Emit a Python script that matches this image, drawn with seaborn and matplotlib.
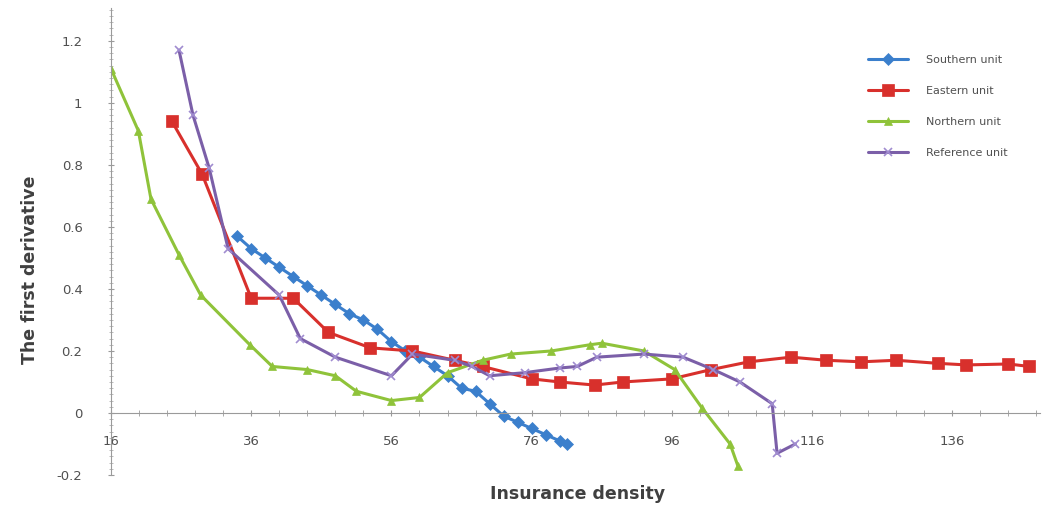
import numpy as np
import pandas as pd
import matplotlib
matplotlib.use('Agg')
import matplotlib.pyplot as plt
import seaborn as sns
from matplotlib.ticker import MultipleLocator

# data
south_x = [34, 36, 38, 40, 42, 44, 46, 48, 50, 52, 54, 56, 58, 60, 62, 64,
           66, 68, 70, 72, 74, 76, 78, 80, 81]
south_y = [0.57, 0.53, 0.50, 0.47, 0.44, 0.41, 0.38, 0.35, 0.32, 0.30, 0.27, 0.23,
           0.20, 0.18, 0.15, 0.12, 0.08, 0.07, 0.03, -0.01, -0.03, -0.05, -0.07,
           -0.09, -0.10]

east_x = [24.7, 29, 36, 42, 47, 53, 59, 65, 69, 76, 80, 85, 89, 96, 101.6,
          107, 113, 118, 123, 128, 134, 138, 144, 147]
east_y = [0.94, 0.77, 0.37, 0.37, 0.26, 0.21, 0.20, 0.17, 0.15, 0.11, 0.10, 0.09,
          0.10, 0.11, 0.14, 0.165, 0.18, 0.17, 0.165, 0.17, 0.16, 0.155, 0.158, 0.15]

north_x = [16, 19.9, 21.7, 25.7, 28.8, 35.8, 39, 44, 48, 51, 56, 60, 64, 69, 73,
           78.8, 84.3, 86, 92, 96.4, 100.3, 104.3, 105.4]
north_y = [1.11, 0.91, 0.69, 0.51, 0.38, 0.22, 0.15, 0.14, 0.12, 0.07, 0.04, 0.05,
           0.13, 0.17, 0.19, 0.20, 0.22, 0.225, 0.20, 0.14, 0.016, -0.10, -0.17]

ref_x = [25.7, 27.7, 30, 32.7, 40, 43, 48, 56, 59, 65, 67.5, 70, 75, 80, 82.5,
         85.3, 92, 97.6, 101.9, 105.7, 110.3, 111, 113.6]
ref_y = [1.17, 0.96, 0.79, 0.53, 0.38, 0.24, 0.18, 0.12, 0.19, 0.17, 0.15, 0.12,
         0.13, 0.145, 0.15, 0.18, 0.19, 0.18, 0.14, 0.10, 0.03, -0.13, -0.10]

names = ['Southern unit', 'Eastern unit', 'Northern unit', 'Reference unit']
colors = ['#3b7fcc', '#d8302c', '#8fc33a', '#7b5fa8']
markers = ['D', 's', '^', 'x']
msizes = [6, 8, 6, 6]

sns.set_style('white')
plt.rcParams['font.family'] = ['DejaVu Sans']

fig = plt.figure(figsize=(10.58, 5.07), dpi=100)
ax = fig.add_axes([111/1058, 32/507, (1040-111)/1058, (475-8)/507])

series = [(south_x, south_y), (east_x, east_y), (north_x, north_y), (ref_x, ref_y)]
for (xs, ys), name, c, m, s in zip(series, names, colors, markers, msizes):
    df = pd.DataFrame({'x': xs, 'y': ys})
    sns.lineplot(data=df, x='x', y='y', ax=ax, color=c, marker=m, markersize=s,
                 markeredgecolor=c if m != 'x' else '#a08cd0',
                 markeredgewidth=1.2 if m == 'x' else 0.5,
                 linewidth=2.2, sort=False, label=name, estimator=None)

ax.set_xlim(16, 148.5)
ax.set_ylim(-0.2, 1.306)

for sp in ['top', 'right']:
    ax.spines[sp].set_visible(False)
ax.spines['bottom'].set_position(('data', 0))
ax.spines['bottom'].set_color('#9a9a9a')
ax.spines['left'].set_color('#9a9a9a')

ax.set_xticks([16, 36, 56, 76, 96, 116, 136])
ax.xaxis.set_minor_locator(MultipleLocator(4))
ax.set_yticks([-0.2, 0, 0.2, 0.4, 0.6, 0.8, 1, 1.2])
ax.set_yticklabels(['-0.2', '0', '0.2', '0.4', '0.6', '0.8', '1', '1.2'])
ax.yaxis.set_minor_locator(MultipleLocator(0.02))
ax.tick_params(axis='x', which='major', direction='inout', length=5, color='#9a9a9a',
               labelsize=9.5, labelcolor='#505050', pad=13)
ax.tick_params(axis='x', which='minor', direction='inout', length=4, color='#9a9a9a')
ax.tick_params(axis='y', which='major', direction='inout', length=5, color='#9a9a9a',
               labelsize=9.5, labelcolor='#505050', pad=18)
ax.tick_params(axis='y', which='minor', direction='inout', length=3, color='#b0b0b0')
ax.tick_params(bottom=True, left=True, which='both')

ax.set_xlabel('')
ax.set_ylabel('')
fig.text(578/1058, 1-494/507, 'Insurance density', ha='center', va='center',
         fontsize=12.5, fontweight='bold', color='#404040')
fig.text(30/1058, 1-270/507, 'The first derivative', ha='center', va='center',
         rotation=90, fontsize=12.5, fontweight='bold', color='#404040')

ax.legend(loc='upper left', bbox_to_anchor=(858/1058, 1-45/507),
          bbox_transform=fig.transFigure, frameon=False, fontsize=8,
          handlelength=3.6, labelspacing=1.9, handletextpad=1.6,
          labelcolor='#505050')

fig.savefig('out.png', dpi=100)
